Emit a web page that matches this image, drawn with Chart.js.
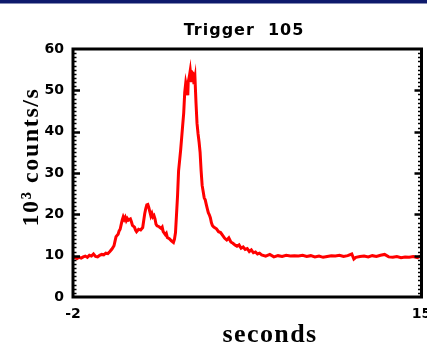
<!DOCTYPE html>
<html>
<head>
<meta charset="utf-8">
<script src="https://cdn.jsdelivr.net/npm/chart.js@4"></script>
<style>
  html, body { margin: 0; padding: 0; background: #fff; }
  canvas { display: block; }
</style>
</head>
<body>
<canvas id="lc" width="427" height="351"></canvas>
<script>
// light curve, trigger 105 (time in s, rate in 10^3 counts/s)
const seconds = [
  -2.0, -1.9, -1.8, -1.7, -1.6, -1.5, -1.4, -1.3, -1.2, -1.1,
  -1.0, -0.9, -0.8, -0.7, -0.6, -0.5, -0.4, -0.3, -0.2, -0.1,
  0.0, 0.05, 0.1, 0.2, 0.25, 0.3, 0.35, 0.4, 0.45, 0.5,
  0.55, 0.6, 0.65, 0.7, 0.8, 0.85, 0.9, 1.0, 1.05, 1.1,
  1.2, 1.3, 1.4, 1.45, 1.5, 1.55, 1.6, 1.65, 1.7, 1.75,
  1.8, 1.85, 1.9, 1.95, 2.0, 2.05, 2.1, 2.2, 2.3, 2.35,
  2.4, 2.5, 2.55, 2.6, 2.7, 2.8, 2.9, 2.95, 3.0, 3.05,
  3.1, 3.15, 3.2, 3.25, 3.3, 3.35, 3.4, 3.45, 3.5, 3.55,
  3.6, 3.62, 3.68, 3.72, 3.78, 3.82, 3.87, 3.9, 3.95, 4.0,
  4.05, 4.1, 4.15, 4.2, 4.25, 4.3, 4.35, 4.4, 4.45, 4.5,
  4.55, 4.6, 4.65, 4.7, 4.75, 4.8, 4.85, 4.9, 5.0, 5.1,
  5.2, 5.3, 5.4, 5.5, 5.6, 5.7, 5.8, 5.9, 6.0, 6.1,
  6.2, 6.3, 6.4, 6.5, 6.6, 6.7, 6.8, 6.9, 7.0, 7.1,
  7.2, 7.4, 7.6, 7.8, 8.0, 8.2, 8.4, 8.6, 8.8, 9.0,
  9.2, 9.4, 9.6, 9.8, 10.0, 10.2, 10.4, 10.6, 10.8, 11.0,
  11.2, 11.4, 11.6, 11.7, 11.8, 12.0, 12.2, 12.4, 12.6, 12.8,
  13.0, 13.2, 13.4, 13.6, 13.8, 14.0, 14.2, 14.4, 14.6, 14.8,
  15.0
];
const rate = [
  9.8, 9.5, 9.3, 9.6, 9.4, 9.7, 9.9, 9.6, 10.1, 9.9,
  10.4, 9.8, 9.7, 10.1, 10.3, 10.2, 10.6, 10.5, 11.0, 11.6,
  12.4, 13.5, 14.6, 15.2, 16.0, 16.4, 17.5, 18.6, 19.4, 18.8,
  19.3, 18.5, 19.0, 18.6, 18.9, 18.2, 17.3, 16.9, 16.2, 15.8,
  16.4, 16.2, 16.8, 18.5, 20.2, 21.4, 22.3, 22.4, 21.6, 20.6,
  19.6, 20.2, 19.4, 19.7, 18.9, 17.6, 17.2, 17.0, 16.6, 16.9,
  15.8, 15.1, 15.4, 14.4, 14.1, 13.6, 13.2, 14.0, 15.6, 20.0,
  24.5, 30.5, 33.0, 35.5, 38.5, 41.5, 44.5, 49.5, 51.8, 50.5,
  48.8, 52.0, 53.5, 54.8, 52.0, 54.3, 54.0, 51.5, 53.0, 47.0,
  42.0, 39.5, 37.5, 35.0, 30.5, 27.0, 25.5, 24.0, 23.5, 22.4,
  21.4, 20.4, 19.9, 19.2, 18.0, 17.3, 17.0, 16.8, 16.5, 15.8,
  15.6, 14.9, 14.2, 13.8, 14.3, 13.3, 13.0, 12.6, 12.3, 12.6,
  11.8, 12.1, 11.5, 11.7, 11.0, 11.4, 10.7, 10.9, 10.4, 10.6,
  10.2, 9.9, 10.3, 9.7, 10.0, 9.8, 10.1, 9.9, 10.0, 9.9,
  10.1, 9.8, 10.0, 9.7, 9.9, 9.6, 9.8, 10.0, 9.9, 10.1,
  9.8, 10.0, 10.4, 9.2, 9.6, 9.8, 9.9, 9.7, 10.0, 9.8,
  10.1, 10.3, 9.7, 9.6, 9.8, 9.5, 9.7, 9.6, 9.8, 9.5,
  10.0
];
const xTicks = [-2, 15];
const yMax = 60;

const tickFont = { family: 'DejaVu Sans', size: 14, weight: 'bold' };

// box, inward ticks and the text around the plot
const framePlugin = {
  id: 'framePlugin',
  beforeDraw(chart) {
    const c = chart.ctx;
    c.save();
    c.fillStyle = '#fff';
    c.fillRect(0, 0, chart.width, chart.height);
    c.fillStyle = '#0e1a6c';
    c.fillRect(0, 0, chart.width, 3.5);
    c.restore();
  },
  afterDatasetsDraw(chart) {
    const c = chart.ctx;
    const a = chart.chartArea;
    const y = chart.scales.y;
    c.save();
    c.strokeStyle = '#000';
    c.lineWidth = 3;
    c.strokeRect(a.left, a.top, a.right - a.left, a.bottom - a.top);

    for (let v = y.min + 1; v < y.max; v++) {
      const py = Math.round(y.getPixelForValue(v)) + 0.5;
      const major = v % 10 === 0;
      c.lineWidth = major ? 2.5 : 1.5;
      const len = major ? 7 : 3.5;
      c.beginPath();
      c.moveTo(a.left, py); c.lineTo(a.left + len, py);
      c.moveTo(a.right, py); c.lineTo(a.right - len, py);
      c.stroke();
    }

    c.fillStyle = '#000';
    c.textAlign = 'center';
    c.textBaseline = 'alphabetic';
    c.font = 'bold 16px "DejaVu Sans"';
    c.letterSpacing = '1px';
    c.fillText('Trigger  105', 244, 35);

    c.font = 'bold 26px "Liberation Serif"';
    c.letterSpacing = '1.4px';
    c.fillText('seconds', 270, 342);

    c.font = 'bold 24px "Liberation Serif"';
    c.letterSpacing = '1.6px';
    c.translate(38, 157);
    c.rotate(-Math.PI / 2);
    c.fillText('10\u00b3 counts/s', 0, 0);
    c.restore();
  }
};

new Chart(document.getElementById('lc'), {
  type: 'line',
  data: {
    datasets: [{
      data: seconds.map((t, i) => ({ x: t, y: rate[i] })),
      borderColor: '#ff0000',
      borderWidth: 3,
      pointRadius: 0,
      tension: 0,
      fill: false
    }]
  },
  options: {
    responsive: false,
    animation: false,
    devicePixelRatio: 1,
    layout: { padding: { top: 49, right: 5.5, bottom: 0, left: 0 } },
    plugins: { legend: { display: false }, title: { display: false }, tooltip: { enabled: false } },
    scales: {
      x: {
        type: 'linear',
        min: -2,
        max: 15,
        grid: { display: false, drawTicks: false },
        border: { display: false },
        afterBuildTicks(s) { s.ticks = xTicks.map(v => ({ value: v })); },
        afterFit(s) { s.height = 54; s.paddingLeft = 0; s.paddingRight = 0; },
        ticks: { font: tickFont, color: '#000', padding: 9, maxRotation: 0, autoSkip: false }
      },
      y: {
        min: 0,
        max: yMax,
        grid: { display: false, drawTicks: false },
        border: { display: false },
        afterFit(s) { s.width = 73; s.paddingTop = 0; s.paddingBottom = 0; },
        ticks: { stepSize: 10, font: tickFont, color: '#000', padding: 9 }
      }
    }
  },
  plugins: [framePlugin]
});
</script>
</body>
</html>
